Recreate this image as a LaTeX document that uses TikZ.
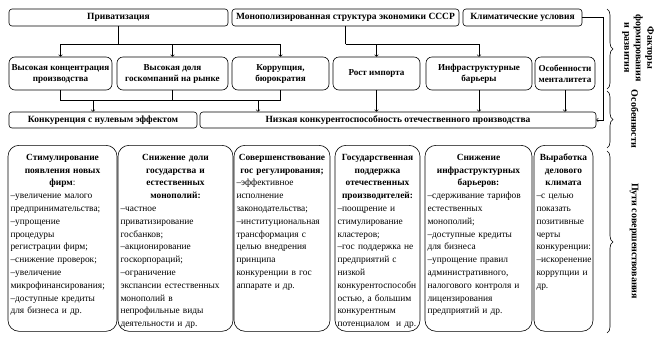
\documentclass[tikz,border=0pt]{standalone}
\usepackage{fontspec}
\setmainfont{Liberation Serif}
\usetikzlibrary{decorations.pathreplacing}

\begin{document}
\begin{tikzpicture}[x=1pt,y=-1pt,>=to,line width=0.6pt,
    topbox/.style={draw,rounded corners=3pt,inner sep=0pt,align=center,font=\fontsize{9.5}{11}\selectfont\bfseries},
    midbox/.style={topbox,rounded corners=6pt,minimum height=33pt,font=\fontsize{9.1}{11}\selectfont\bfseries},
    waybox/.style={draw,rounded corners=11pt,anchor=north,inner xsep=2.5pt,inner ysep=5pt,align=left,
        text height=10pt,text depth=166pt,font=\fontsize{9.4}{12.8}\selectfont},
    bracelbl/.style={rotate=-90,align=center,font=\fontsize{10}{11.5}\selectfont\bfseries}]
    \useasboundingbox (0,0) rectangle (658,346);
    % --- факторы ---
    \node[topbox,minimum width=219pt,minimum height=17pt] (priv) at (118.5,17.5) {Приватизация};
    \node[topbox,minimum width=227pt,minimum height=17pt] (mono) at (345.5,17.5) {Монополизированная структура экономики СССР};
    \node[topbox,minimum width=119pt,minimum height=17pt] (klim) at (522.5,17.5) {Климатические условия};
    % --- особенности ---
    \node[midbox,minimum width=103pt] (konc) at (60.5,73.5) {Высокая концентрация\\ производства};
    \node[midbox,minimum width=111pt] (dolya) at (172.5,73.5) {Высокая доля\\ госкомпаний на рынке};
    \node[midbox,minimum width=97pt] (korr) at (280.5,73.5) {Коррупция,\\ бюрократия};
    \node[midbox,minimum width=87pt] (imp) at (376.5,73.5) {Рост импорта};
    \node[midbox,minimum width=106pt] (infra) at (479,73.5) {Инфраструктурные\\ барьеры};
    \node[midbox,minimum width=60pt] (ment) at (565,73.5) {Особенности\\ менталитета};
    \node[topbox,minimum width=188pt,minimum height=16pt] (nul) at (103,120) {Конкуренция с нулевым эффектом};
    \node[topbox,minimum width=396pt,minimum height=16pt] (nizk) at (398,120) {Низкая конкурентоспособность отечественного производства};
    % --- связи ---
    \coordinate (lv1) at (0,44);
    \coordinate (lv2) at (0,100);
    \draw (priv.south) -- (priv.south |- lv1);
    \foreach \n in {konc,dolya,korr}{\draw[->] (priv.south |- lv1) -| (\n.north);}
    \draw (mono.south) -- (mono.south |- lv1);
    \foreach \n in {imp,infra}{\draw[->] (mono.south |- lv1) -| (\n.north);}
    \draw (konc.south) |- (korr.south |- lv2) -- (korr.south);
    \draw (dolya.south) -- (dolya.south |- lv2);
    \coordinate (d1) at (93,100);
    \coordinate (d2) at (258,100);
    \draw[->] (d1) -- (d1 |- nul.north);
    \draw[->] (d2) -- (d2 |- nizk.north);
    \foreach \n in {imp,infra,ment}{\draw[->] (\n.south) -- (\n.south |- nizk.north);}
    \draw[->] (klim.east) -- ++(21,0) |- (nizk.east);
    % --- пути совершенствования ---
    \node[waybox,text width=104pt] (w1) at (62.5,145) {{\centering\bfseries Стимулирование\\ появления новых\\ фирм\mdseries:\par}
        –увеличение малого\\ предпринимательства;\\ –упрощение\\ процедуры\\ регистрации фирм;\\ –снижение проверок;\\
        –увеличение\\ микрофинансирования;\\ –доступные кредиты\\ для бизнеса и др.};
    \node[waybox,text width=110pt] (w2) at (175.5,145) {{\centering\bfseries Снижение доли\\ государства и\\ естественных\\ монополий:\par}
        –частное\\ приватизирование\\ госбанков;\\ –акционирование\\ госкорпораций;\\ –ограничение\\
        экспансии естественных\\ монополий в\\ непрофильные виды\\ деятельности и др.};
    \node[waybox,text width=91pt] (w3) at (282,145) {{\centering\bfseries Совершенствование\\ гос регулирования;\par}
        –эффективное\\ исполнение\\ законодательства;\\ \mbox{–институциональная}\\ трансформация с\\ целью внедрения\\
        принципа\\ конкуренции в гос\\ аппарате и др.};
    \node[waybox,text width=80pt] (w4) at (377.5,145) {{\centering\bfseries Государственная\\ поддержка\\ отечественных\\ производителей:\par}
        –поощрение и\\ стимулирование\\ кластеров;\\ –гос поддержка не\\ предприятий с\\ низкой\\
        конкурентоспособн\\ остью, а большим\\ конкурентным\\ потенциалом~ и др.};
    \node[waybox,text width=102pt] (w5) at (478.5,145) {{\centering\bfseries Снижение\\ инфраструктурных\\ барьеров:\par}
        –сдерживание тарифов\\ естественных\\ монополий;\\ –доступные кредиты\\ для бизнеса\\ –упрощение правил\\
        административного,\\ налогового контроля и\\ лицензирования\\ предприятий и др.};
    \node[waybox,text width=54pt] (w6) at (563.5,145) {{\centering\bfseries Выработка\\ делового\\ климата\par}
        –с целью\\ показать\\ позитивные\\ черты\\ конкуренции:\\ \mbox{–искоренение}\\ коррупции и\\ др.};
    % --- скобки справа ---
    \draw[decorate,decoration={brace,amplitude=6pt}] (607,9) -- (607,89);
    \draw[decorate,decoration={brace,amplitude=6pt}] (607,91) -- (607,148);
    \draw[decorate,decoration={brace,amplitude=6pt}] (607,151) -- (607,333);
    \node[bracelbl] (fakt) at (638,48) {Факторы\\ формирования\\ и развития};
    \node[bracelbl] (osob) at (635,119) {Особенности};
    \node[bracelbl] (puti) at (634,241) {Пути совершенствования};
\end{tikzpicture}
\end{document}
